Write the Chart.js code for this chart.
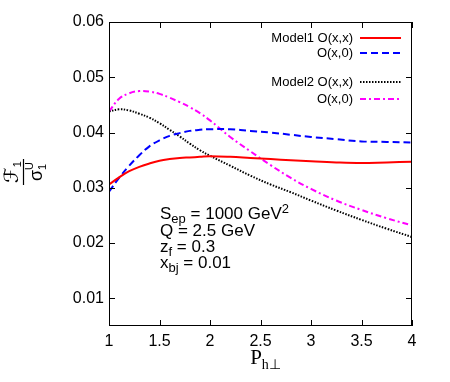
<!DOCTYPE html>
<html>
<head>
<meta charset="utf-8">
<script src="https://cdn.jsdelivr.net/npm/chart.js@4/dist/chart.umd.min.js"></script>
<style>
  body { margin: 0; background: #fff; }
  #wrap { width: 450px; height: 382px; }
</style>
</head>
<body>
<div id="wrap"><canvas id="myChart" width="450" height="382"></canvas></div>
<script>
// P_h⊥ values
const pt = [1, 1.1, 1.2, 1.3, 1.4, 1.5, 1.6, 1.7, 1.8, 1.9, 2.0, 2.2, 2.4, 2.6, 2.8, 3.0, 3.25, 3.5, 3.75, 4];

const model1_xx = [0.0306, 0.0319, 0.0330, 0.0338, 0.0344, 0.0349, 0.0352, 0.0354, 0.0355, 0.0356, 0.0357, 0.0356, 0.0354, 0.0352, 0.0350, 0.0348, 0.0346, 0.0345, 0.0346, 0.0347];
const model1_x0 = [0.0293, 0.0318, 0.0340, 0.0359, 0.0375, 0.0386, 0.0394, 0.0399, 0.0403, 0.0405, 0.0406, 0.0406, 0.0403, 0.0400, 0.0396, 0.0392, 0.0388, 0.0384, 0.0383, 0.0382];
const model2_xx = [0.0438, 0.0442, 0.0440, 0.0434, 0.0427, 0.0417, 0.0405, 0.0393, 0.0380, 0.0368, 0.0358, 0.0340, 0.0322, 0.0306, 0.0292, 0.0277, 0.0259, 0.0242, 0.0226, 0.0211];
const model2_x0 = [0.0438, 0.0461, 0.0471, 0.0475, 0.0474, 0.0470, 0.0463, 0.0455, 0.0446, 0.0435, 0.0422, 0.0392, 0.0366, 0.0341, 0.0318, 0.0298, 0.0277, 0.0260, 0.0245, 0.0232];

const xTicks = [1, 1.5, 2, 2.5, 3, 3.5, 4];
const yTicks = [0.01, 0.02, 0.03, 0.04, 0.05, 0.06];

const legendRows = [
    { label: 'Model1 O(x,x)', ds: 0, y: 38 },
    { label: 'O(x,0)', ds: 1, y: 53 },
    { label: 'Model2 O(x,x)', ds: 2, y: 82 },
    { label: 'O(x,0)', ds: 3, y: 99 }
];

function pts(arr){
    return arr.map((v, i) => ({ x: pt[i], y: v }));
}

const sans = '"Liberation Sans", Arial, Helvetica, sans-serif';
const serif = '"Liberation Serif", "Times New Roman", serif';

// frame, inward ticks, legend and texts
const decor = {
    id: 'decor',
    afterDraw(chart){
        const ctx = chart.ctx;
        const a = chart.chartArea;
        const xs = chart.scales.x, ys = chart.scales.y;
        ctx.save();
        ctx.strokeStyle = '#000';
        ctx.lineWidth = 1;
        ctx.strokeRect(a.left + 0.5, a.top + 0.5, a.right - a.left - 1, a.bottom - a.top - 1);
        ctx.beginPath();
        xTicks.forEach(v => {
            const px = Math.round(xs.getPixelForValue(v)) + 0.5;
            ctx.moveTo(px, a.bottom); ctx.lineTo(px, a.bottom - 6);
            ctx.moveTo(px, a.top); ctx.lineTo(px, a.top + 6);
        });
        yTicks.forEach(v => {
            const py = Math.round(ys.getPixelForValue(v)) + 0.5;
            ctx.moveTo(a.left, py); ctx.lineTo(a.left + 6, py);
            ctx.moveTo(a.right, py); ctx.lineTo(a.right - 6, py);
        });
        ctx.stroke();

        // legend
        ctx.font = '13px ' + sans;
        ctx.fillStyle = '#000';
        ctx.textAlign = 'right';
        ctx.textBaseline = 'middle';
        legendRows.forEach(r => {
            const ds = chart.data.datasets[r.ds];
            ctx.fillText(r.label, 353, r.y);
            ctx.save();
            ctx.strokeStyle = ds.borderColor;
            ctx.lineWidth = ds.borderWidth;
            ctx.setLineDash(ds.borderDash || []);
            ctx.beginPath();
            ctx.moveTo(360, r.y); ctx.lineTo(401, r.y);
            ctx.stroke();
            ctx.restore();
        });

        // parameters
        ctx.textAlign = 'left';
        ctx.textBaseline = 'alphabetic';
        const big = '17px ' + sans, small = '13px ' + sans;
        function run(parts, x, y){
            parts.forEach(p => {
                ctx.font = p[1] ? small : big;
                const dy = p[1] === 'sub' ? 4 : (p[1] === 'sup' ? -6 : 0);
                ctx.fillText(p[0], x, y + dy);
                x += ctx.measureText(p[0]).width;
            });
        }
        run([['S'], ['ep', 'sub'], [' = 1000 GeV'], ['2', 'sup']], 160, 219);
        run([['Q = 2.5 GeV']], 160, 236);
        run([['z'], ['f', 'sub'], [' = 0.3']], 160, 252);
        run([['x'], ['bj', 'sub'], [' = 0.01']], 160, 268);

        // x title
        const cx = (a.left + a.right) / 2;
        ctx.font = '21px ' + serif;
        const wP = ctx.measureText('P').width;
        ctx.font = '14px ' + serif;
        const wS = ctx.measureText('h\u22a5').width;
        let x0 = cx + 5 - (wP + wS) / 2;
        ctx.font = '21px ' + serif;
        ctx.fillText('P', x0, 364);
        ctx.font = '14px ' + serif;
        ctx.fillText('h\u22a5', x0 + wP, 369);

        // y title as fraction, rotated
        ctx.translate(23, 172);
        ctx.rotate(-Math.PI / 2);
        ctx.beginPath();
        ctx.lineWidth = 1.2;
        ctx.moveTo(-13, 0.5); ctx.lineTo(13, 0.5);
        ctx.stroke();
        ctx.font = '20px "DejaVu Sans", sans-serif';
        const wF = ctx.measureText('\u2131').width;
        ctx.font = '11px ' + sans;
        const w1 = ctx.measureText('1').width;
        let nx = -(wF + w1) / 2;
        ctx.font = '20px "DejaVu Sans", sans-serif';
        ctx.fillText('\u2131', nx, -5);
        ctx.font = '11px ' + sans;
        ctx.fillText('1', nx + wF, -2);
        ctx.font = '18px ' + sans;
        const wSig = ctx.measureText('\u03c3').width;
        let dx = -(wSig + 7) / 2;
        ctx.fillText('\u03c3', dx, 19);
        ctx.font = '11px ' + sans;
        ctx.fillText('U', dx + wSig, 10);
        ctx.fillText('1', dx + wSig, 23);
        ctx.restore();
    }
};

const ctx = document.getElementById('myChart').getContext('2d');
const myChart = new Chart(ctx, {
    type: 'line',
    data: {
        datasets: [
            { label: 'Model1 O(x,x)', data: pts(model1_xx), borderColor: '#ff0000', borderWidth: 2 },
            { label: 'Model1 O(x,0)', data: pts(model1_x0), borderColor: '#0000ff', borderWidth: 2, borderDash: [7, 4] },
            { label: 'Model2 O(x,x)', data: pts(model2_xx), borderColor: '#000000', borderWidth: 2, borderDash: [1.5, 1.5] },
            { label: 'Model2 O(x,0)', data: pts(model2_x0), borderColor: '#ff00ff', borderWidth: 2, borderDash: [6, 3, 2, 3] }
        ]
    },
    options: {
        responsive: false,
        animation: false,
        layout: { padding: { left: 0, right: 38, top: 22, bottom: 0 } },
        elements: {
            point: { radius: 0 },
            line: { tension: 0.4, fill: false }
        },
        plugins: {
            legend: { display: false },
            tooltip: { enabled: false }
        },
        scales: {
            x: {
                type: 'linear',
                min: 1,
                max: 4,
                afterBuildTicks: s => { s.ticks = xTicks.map(v => ({ value: v })); },
                afterFit: s => { s.height = 56; },
                grid: { display: false, tickLength: 0 },
                border: { display: false },
                ticks: {
                    color: '#000',
                    padding: 6,
                    maxRotation: 0,
                    font: { family: sans, size: 16 },
                    callback: v => String(v)
                }
            },
            y: {
                min: 0.005,
                max: 0.06,
                afterBuildTicks: s => { s.ticks = yTicks.map(v => ({ value: v })); },
                afterFit: s => { s.width = 109; },
                grid: { display: false, tickLength: 0 },
                border: { display: false },
                ticks: {
                    color: '#000',
                    padding: 5,
                    font: { family: sans, size: 16 },
                    callback: v => v.toFixed(2)
                }
            }
        }
    },
    plugins: [decor]
});
</script>
</body>
</html>
